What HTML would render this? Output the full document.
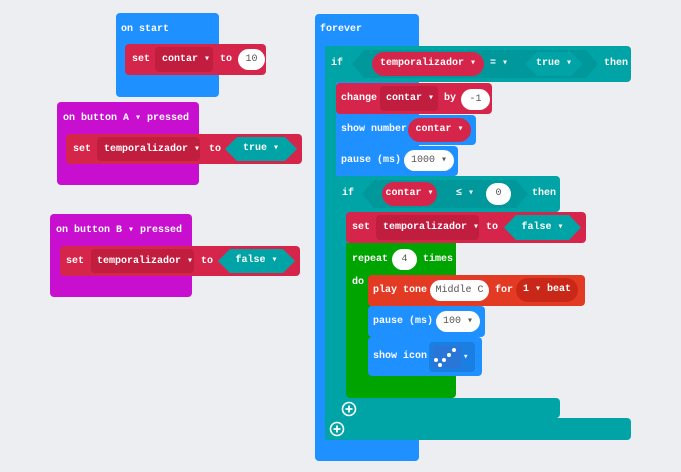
<!DOCTYPE html>
<html><head><meta charset="utf-8"><style>
html,body{margin:0;padding:0}
body{width:681px;height:472px;background:#eceef1;position:relative;overflow:hidden;font-family:"Liberation Mono",monospace;font-weight:bold;font-size:10px;color:#fff}
.r{position:absolute;border-radius:4px}
.t{position:absolute;white-space:nowrap;line-height:14px}
.p{position:absolute;border-radius:12px;text-align:center;white-space:nowrap}
.w{background:#fff;color:#555;font-weight:normal}
.B{background:#1e90ff}.R{background:#d6254a}.Rd{background:#c01d3f}.M{background:#c80fd0}.T{background:#00a4a6}.Td{background:#00989b}.G{background:#00a400}.O{background:#e33a24}.Od{background:#c92818}
.hex{position:absolute;clip-path:polygon(12px 0,calc(100% - 12px) 0,100% 50%,calc(100% - 12px) 100%,12px 100%,0 50%);text-align:center}
</style></head><body>

<!-- on start -->
<div class="r B" style="left:116px;top:13px;width:103px;height:84px"></div>
<div class="t" style="left:121px;top:23px">on start</div>
<div class="r R" style="left:125px;top:44px;width:141px;height:31px"></div>
<div class="t" style="left:132px;top:53px">set</div>
<div class="r Rd" style="left:155px;top:47px;width:58px;height:25px"></div>
<div class="t" style="left:162px;top:53px">contar ▾</div>
<div class="t" style="left:220px;top:53px">to</div>
<div class="p w" style="left:238px;top:49px;width:27px;height:21px;line-height:21px">10</div>

<!-- on button A -->
<div class="r M" style="left:57px;top:102px;width:142px;height:83px"></div>
<div class="t" style="left:63px;top:112px">on button A ▾ pressed</div>
<div class="r R" style="left:66px;top:134px;width:236px;height:30px"></div>
<div class="t" style="left:73px;top:143px">set</div>
<div class="r Rd" style="left:97px;top:137px;width:103px;height:24px"></div>
<div class="t" style="left:104px;top:143px">temporalizador ▾</div>
<div class="t" style="left:209px;top:143px">to</div>
<div class="hex T" style="left:225px;top:137px;width:72px;height:24px;line-height:24px">true ▾</div>

<!-- on button B -->
<div class="r M" style="left:50px;top:214px;width:142px;height:83px"></div>
<div class="t" style="left:56px;top:224px">on button B ▾ pressed</div>
<div class="r R" style="left:60px;top:246px;width:240px;height:30px"></div>
<div class="t" style="left:66px;top:255px">set</div>
<div class="r Rd" style="left:91px;top:249px;width:103px;height:24px"></div>
<div class="t" style="left:97px;top:255px">temporalizador ▾</div>
<div class="t" style="left:201px;top:255px">to</div>
<div class="hex T" style="left:218px;top:249px;width:77px;height:24px;line-height:24px">false ▾</div>

<!-- forever -->
<div class="r B" style="left:315px;top:14px;width:104px;height:447px"></div>
<div class="t" style="left:320px;top:23px">forever</div>

<!-- outer if -->
<div class="r T" style="left:325px;top:46px;width:306px;height:36px"></div>
<div class="T" style="position:absolute;left:325px;top:46px;width:11px;height:394px"></div>
<div class="r T" style="left:325px;top:418px;width:306px;height:22px"></div>
<div class="t" style="left:331px;top:57px">if</div>
<div class="hex Td" style="left:352px;top:50px;width:246px;height:28px"></div>
<div class="p R" style="left:372px;top:52px;width:112px;height:24px;line-height:24px">temporalizador ▾</div>
<div class="t" style="left:490px;top:57px">= ▾</div>
<div class="hex T" style="left:525px;top:52px;width:58px;height:24px;line-height:24px">true ▾</div>
<div class="t" style="left:604px;top:57px">then</div>

<!-- change -->
<div class="r R" style="left:336px;top:83px;width:156px;height:31px"></div>
<div class="t" style="left:341px;top:92px">change</div>
<div class="r Rd" style="left:380px;top:86px;width:58px;height:25px"></div>
<div class="t" style="left:386px;top:92px">contar ▾</div>
<div class="t" style="left:444px;top:92px">by</div>
<div class="p w" style="left:461px;top:89px;width:29px;height:21px;line-height:21px">-1</div>

<!-- show number -->
<div class="r B" style="left:336px;top:115px;width:140px;height:30px"></div>
<div class="t" style="left:341px;top:123px">show number</div>
<div class="p R" style="left:408px;top:118px;width:63px;height:24px;line-height:24px">contar ▾</div>

<!-- pause 1000 -->
<div class="r B" style="left:336px;top:146px;width:122px;height:30px"></div>
<div class="t" style="left:341px;top:154px">pause (ms)</div>
<div class="p w" style="left:404px;top:150px;width:50px;height:21px;line-height:21px">1000 ▾</div>

<!-- inner if -->
<div class="r T" style="left:336px;top:176px;width:224px;height:36px"></div>
<div class="T" style="position:absolute;left:336px;top:176px;width:11px;height:242px"></div>
<div class="r T" style="left:336px;top:398px;width:224px;height:20px"></div>
<div class="t" style="left:342px;top:187px">if</div>
<div class="hex Td" style="left:362px;top:180px;width:166px;height:28px"></div>
<div class="p R" style="left:382px;top:182px;width:55px;height:24px;line-height:24px">contar ▾</div>
<div class="t" style="left:456px;top:187px">≤ ▾</div>
<div class="p w" style="left:486px;top:183px;width:25px;height:22px;line-height:22px">0</div>
<div class="t" style="left:532px;top:187px">then</div>

<!-- set temporalizador false -->
<div class="r R" style="left:346px;top:212px;width:240px;height:31px"></div>
<div class="t" style="left:352px;top:221px">set</div>
<div class="r Rd" style="left:376px;top:215px;width:103px;height:25px"></div>
<div class="t" style="left:383px;top:221px">temporalizador ▾</div>
<div class="t" style="left:486px;top:221px">to</div>
<div class="hex T" style="left:504px;top:215px;width:77px;height:25px;line-height:25px">false ▾</div>

<!-- repeat -->
<div class="r G" style="left:346px;top:243px;width:110px;height:155px;border-radius:0 0 4px 4px"></div>
<div class="t" style="left:352px;top:253px">repeat</div>
<div class="p w" style="left:392px;top:249px;width:25px;height:21px;line-height:21px">4</div>
<div class="t" style="left:423px;top:253px">times</div>
<div class="t" style="left:352px;top:276px">do</div>

<!-- play tone -->
<div class="r O" style="left:368px;top:275px;width:217px;height:31px"></div>
<div class="t" style="left:373px;top:284px">play tone</div>
<div class="p w" style="left:430px;top:280px;width:59px;height:21px;line-height:21px;color:#555">Middle C</div>
<div class="t" style="left:495px;top:284px">for</div>
<div class="p Od" style="left:516px;top:278px;width:62px;height:24px;line-height:24px">1 ▾ beat</div>

<!-- pause 100 -->
<div class="r B" style="left:368px;top:306px;width:117px;height:31px"></div>
<div class="t" style="left:373px;top:315px">pause (ms)</div>
<div class="p w" style="left:436px;top:311px;width:44px;height:21px;line-height:21px">100 ▾</div>

<!-- show icon -->
<div class="r B" style="left:368px;top:337px;width:114px;height:39px"></div>
<div class="t" style="left:373px;top:350px">show icon</div>
<div class="r" style="left:429px;top:342px;width:46px;height:30px;background:#1a7fe0"></div>
<svg style="position:absolute;left:433px;top:346px" width="28" height="24">
<rect x="0" y="0" width="28" height="22" rx="2" fill="#2a75d8"/>
<g fill="#fff"><circle cx="21" cy="4" r="2"/><circle cx="16" cy="9" r="2"/><circle cx="11" cy="14" r="2"/><circle cx="3" cy="14" r="2"/><circle cx="7" cy="19" r="2"/></g>
</svg>
<div class="t" style="left:463px;top:350px;font-size:9px">▾</div>

<!-- plus icons -->
<svg style="position:absolute;left:341px;top:401px" width="16" height="16"><circle cx="8" cy="8" r="6.5" fill="none" stroke="#fff" stroke-width="1.6"/><path d="M8 4.5v7M4.5 8h7" stroke="#fff" stroke-width="1.8"/></svg>
<svg style="position:absolute;left:329px;top:421px" width="16" height="16"><circle cx="8" cy="8" r="6.5" fill="none" stroke="#fff" stroke-width="1.6"/><path d="M8 4.5v7M4.5 8h7" stroke="#fff" stroke-width="1.8"/></svg>

</body></html>
